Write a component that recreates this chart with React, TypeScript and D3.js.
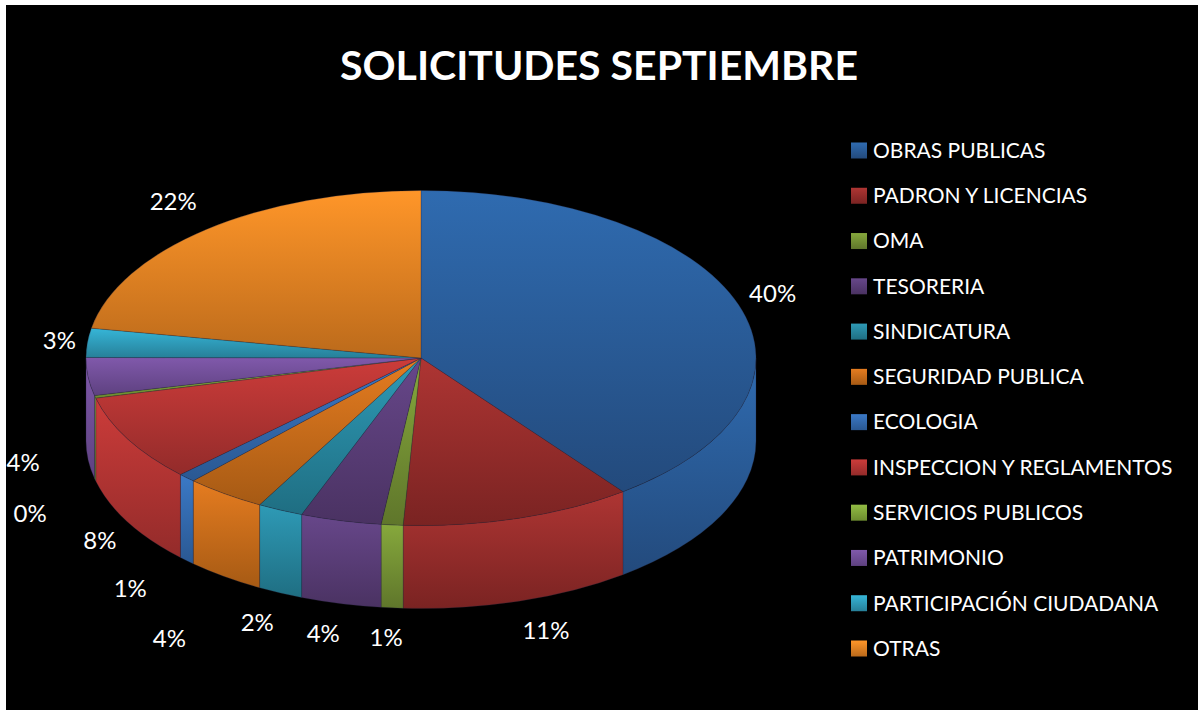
import React from "react";
import * as d3 from "d3";

const categories = [
  "OBRAS PUBLICAS", "PADRON Y LICENCIAS", "OMA", "TESORERIA", "SINDICATURA", "SEGURIDAD PUBLICA",
  "ECOLOGIA", "INSPECCION Y REGLAMENTOS", "SERVICIOS PUBLICOS", "PATRIMONIO", "PARTICIPACIÓN CIUDADANA", "OTRAS",
];
const values = [39.7, 11.15, 1.05, 3.9, 2.2, 3.9, 0.85, 8.4, 0.25, 3.65, 2.8, 22.15];
const lightColors = ["#2F6BB0", "#AE3533", "#86A83C", "#67478A", "#2E9AB6", "#E57C20", "#3B79C6", "#CC3C3A", "#93BC44", "#8059AB", "#36B6D8", "#FF9629"];
const darkColors = ["#234A7C", "#7A2322", "#5F762B", "#4A3262", "#1F6E82", "#A65A14", "#2A5892", "#932B2A", "#6C8B2F", "#5E4180", "#277F98", "#BB6A1B"];
const labelOffsets: [number, number][] = [
  [34, -11], [27, 112.5], [-6, 113], [-17.5, 113], [-23, 113], [-55.6, 144.5],
  [-56.5, 110.5], [-28, 101], [-65, 116.5], [-65, 86], [-28, -2], [-33, -28],
];

const W = 1198, H = 710;
const cx = 421, cy = 358, rx = 335, ry = 167.5, depth = 83;
const sx = d3.scaleLinear().domain([-1, 1]).range([cx - rx, cx + rx]);
const sy = d3.scaleLinear().domain([-1, 1]).range([cy - ry, cy + ry]);
const px = (a: number) => sx(Math.sin(a));
const py = (a: number) => sy(-Math.cos(a));
const legendY = d3.scaleLinear().domain([0, categories.length - 1]).range([150.5, 648.5]);

const arcs = d3.pie<number>().sort(null).startAngle(0).endAngle(2 * Math.PI)(values);
const pct = d3.format(".0%");
const total = d3.sum(values);
const FONT = "Lato, Carlito, sans-serif";

function topPath(a0: number, a1: number) {
  const large = a1 - a0 > Math.PI ? 1 : 0;
  return `M${cx},${cy}L${px(a0)},${py(a0)}A${rx},${ry} 0 ${large} 1 ${px(a1)},${py(a1)}Z`;
}
function wallPath(a0: number, a1: number) {
  const s = Math.max(a0, Math.PI / 2), e = Math.min(a1, (3 * Math.PI) / 2);
  if (e <= s) return null;
  return `M${px(s)},${py(s)}A${rx},${ry} 0 0 1 ${px(e)},${py(e)}L${px(e)},${py(e) + depth}A${rx},${ry} 0 0 0 ${px(s)},${py(s) + depth}Z`;
}

export default function App() {
  return (
    <svg width={W} height={H} style={{ position: "absolute", left: 0, top: 0, display: "block" }}>
      <defs>
        {categories.map((_, i) => (
          <linearGradient key={i} id={`grad-${i}`} x1="0" y1="0" x2="0" y2="1">
            <stop offset="0" stopColor={lightColors[i]} />
            <stop offset="1" stopColor={darkColors[i]} />
          </linearGradient>
        ))}
      </defs>
      <rect x={6} y={5} width={W - 6} height={H - 5} fill="#000" />
      <text x={599} y={80} textAnchor="middle" fill="#fff" fontFamily={FONT} fontWeight={700} fontSize={41}>
        SOLICITUDES SEPTIEMBRE
      </text>
      <g>
        {arcs.map((d, i) => {
          const p = wallPath(d.startAngle, d.endAngle);
          return p ? <path key={i} d={p} fill={`url(#grad-${i})`} stroke="#2a2a44" strokeOpacity={0.45} strokeWidth={0.6} /> : null;
        })}
      </g>
      <g>
        {arcs.map((d, i) => (
          <path key={i} d={topPath(d.startAngle, d.endAngle)} fill={`url(#grad-${i})`} stroke="#2a2a44" strokeOpacity={0.45} strokeWidth={0.6} />
        ))}
      </g>
      <g fontFamily={FONT} fontSize={24} fill="#fff" textAnchor="middle">
        {arcs.map((d, i) => {
          const m = (d.startAngle + d.endAngle) / 2;
          return (
            <text key={i} x={px(m) + labelOffsets[i][0]} y={py(m) + labelOffsets[i][1]} dy="0.35em">
              {pct(d.value / total)}
            </text>
          );
        })}
      </g>
      <g fontFamily={FONT} fontSize={21} fill="#fff">
        {categories.map((c, i) => (
          <g key={c}>
            <rect x={851} y={legendY(i) - 8} width={16} height={16} fill={`url(#grad-${i})`} />
            <text x={873} y={legendY(i)} dy="0.35em">{c}</text>
          </g>
        ))}
      </g>
    </svg>
  );
}
